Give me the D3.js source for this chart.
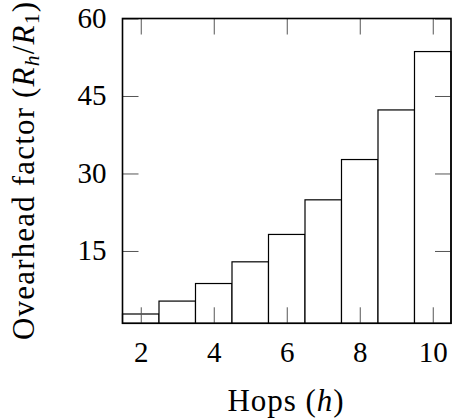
<!DOCTYPE html>
<html>
<head>
<meta charset="utf-8">
<script src="https://cdn.jsdelivr.net/npm/d3@7"></script>
<style>
  html, body { margin: 0; padding: 0; background: #fff; }
  svg text { font-family: "Liberation Serif", "Times New Roman", serif; fill: #000; }
</style>
</head>
<body>
<svg id="chart" width="455" height="420"></svg>
<script>
const hops = [2, 3, 4, 5, 6, 7, 8, 9, 10];
const overhead = [2.8, 5.3, 8.7, 12.9, 18.2, 24.9, 32.7, 42.3, 53.6];
const xTicks = [2, 4, 6, 8, 10];
const yTicks = [15, 30, 45, 60];

const svg = d3.select("#chart");
const L = 122.5, R = 451, T = 18.5, B = 323.3;
const FS = 29;
const LFS = 31;

const x = d3.scaleLinear().domain([1.5, 10.5]).range([L, R]);
const y = d3.scaleLinear().domain([1, 60]).range([B, T]);

// bars
svg.append("g").selectAll("rect").data(hops).join("rect")
  .attr("x", d => x(d - 0.5))
  .attr("width", d => x(d + 0.5) - x(d - 0.5))
  .attr("y", (d, i) => y(overhead[i]))
  .attr("height", (d, i) => y(1) - y(overhead[i]))
  .attr("fill", "#fff")
  .attr("stroke", "#000")
  .attr("stroke-width", 1.2);

const tickLen = 16;
const gB = svg.append("g").attr("transform", `translate(0,${B})`)
  .call(d3.axisBottom(x).tickValues(xTicks).tickSize(-tickLen).tickPadding(18).tickFormat(d3.format("d")));
const gT = svg.append("g").attr("transform", `translate(0,${T})`)
  .call(d3.axisTop(x).tickValues(xTicks).tickSize(-tickLen).tickFormat(""));
const gL = svg.append("g").attr("transform", `translate(${L},0)`)
  .call(d3.axisLeft(y).tickValues(yTicks).tickSize(-tickLen).tickPadding(16).tickFormat(d3.format("d")));
const gR = svg.append("g").attr("transform", `translate(${R},0)`)
  .call(d3.axisRight(y).tickValues(yTicks).tickSize(-tickLen).tickFormat(""));

[gB, gT, gL, gR].forEach(g => {
  g.select(".domain").remove();
  g.selectAll(".tick line").attr("stroke", "#555").attr("stroke-width", 1);
  g.selectAll(".tick text").attr("font-size", FS).attr("font-family", "Liberation Serif, serif");
});
gL.selectAll(".tick text").attr("dy", "0.3em");

// frame
svg.append("rect")
  .attr("x", L).attr("y", T)
  .attr("width", R - L).attr("height", B - T)
  .attr("fill", "none").attr("stroke", "#000").attr("stroke-width", 1.6);

// x label
const xl = svg.append("text")
  .attr("x", 285.5).attr("y", 410.5)
  .attr("text-anchor", "middle").attr("font-size", LFS)
  .attr("textLength", 116).attr("lengthAdjust", "spacing");
xl.append("tspan").text("Hops (");
xl.append("tspan").attr("font-style", "italic").text("h");
xl.append("tspan").text(")");

// y label
const yl = svg.append("text")
  .attr("transform", `translate(33.5,171) rotate(-90)`)
  .attr("text-anchor", "middle").attr("font-size", LFS)
  .attr("textLength", 338).attr("lengthAdjust", "spacing");
yl.append("tspan").text("Ovearhead factor (");
yl.append("tspan").attr("font-style", "italic").text("R");
yl.append("tspan").attr("font-style", "italic").attr("font-size", LFS * 0.7).attr("dy", 5).text("h");
yl.append("tspan").attr("dy", -5).text("/");
yl.append("tspan").attr("font-style", "italic").text("R");
yl.append("tspan").attr("font-size", LFS * 0.7).attr("dy", 5).text("1");
yl.append("tspan").attr("dy", -5).text(")");
</script>
</body>
</html>
